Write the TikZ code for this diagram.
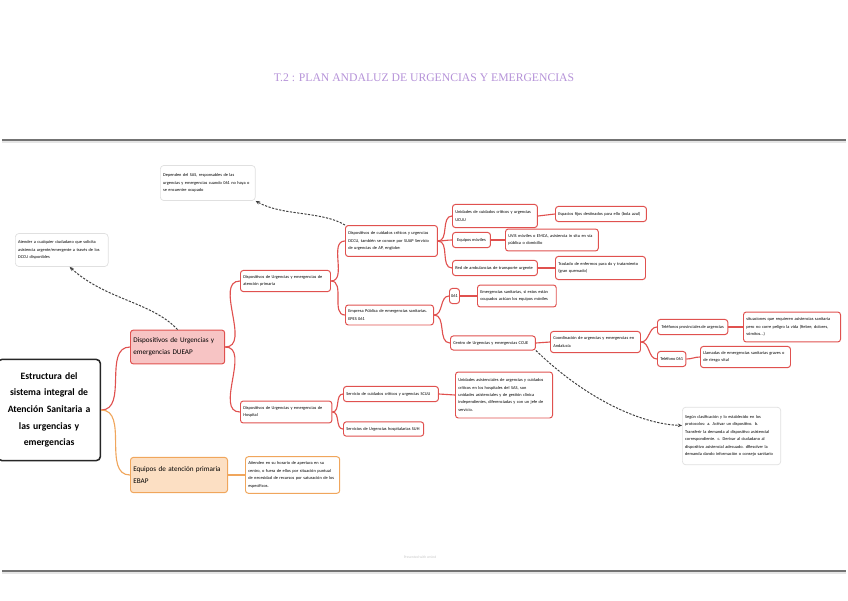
\documentclass[tikz,border=0pt]{standalone}
\usepackage{fontspec}
\setmainfont{Carlito}
\newfontfamily\titlefont{Liberation Serif}
\usetikzlibrary{arrows.meta}
\definecolor{mapred}{HTML}{E0514F}
\definecolor{mappink}{HTML}{F7C4C4}
\definecolor{maporange}{HTML}{F0A65C}
\definecolor{mappeach}{HTML}{FCDFC3}
\definecolor{maplilac}{HTML}{B592D8}

\begin{document}
\begin{tikzpicture}[x=0.025cm, y=-0.025cm,
	topic/.style={ draw=mapred, line width=0.7pt, fill=white, rounded corners=2pt, anchor=west, align=left, inner xsep=2pt, inner ysep=1pt, font=\fontsize{3.1}{5.3}\selectfont },
	topico/.style={ topic, draw=maporange },
	maintopic/.style={ topic, fill=mappink, font=\fontsize{5.1}{8.4}\selectfont },
	maintopico/.style={ maintopic, draw=maporange, fill=mappeach },
	rootbox/.style={ draw=black!85, line width=1.1pt, fill=white, rounded corners=3pt, anchor=west, align=center, inner xsep=1pt, font=\fontsize{6.9}{11.8}\selectfont\bfseries },
	notebox/.style={ topic, draw=black!12, line width=0.5pt, rounded corners=2.5pt },
	redline/.style={ draw=mapred, line width=0.8pt },
	orangeline/.style={ draw=maporange, line width=0.8pt },
	link/.style={ draw=black!75, line width=0.7pt, dash pattern=on 1.6pt off 1pt, -{Stealth[length=3pt,width=2.6pt]} }
]
\useasboundingbox (0,0) rectangle (848,600);

% header and footer
\node at (424,78) (title) [text=maplilac, font=\fontsize{8.3}{9}\titlefont] {T.2 : PLAN ANDALUZ DE URGENCIAS Y EMERGENCIAS};
\draw[black!10, line width=1.2pt] (2,142) -- (846,142);
\draw[black!55, line width=0.8pt] (2,140) -- (846,140);
\draw[black!10, line width=1.2pt] (2,573) -- (846,573);
\draw[black!55, line width=0.8pt] (2,571) -- (846,571);
\node at (420,557) (footer) [text=black!22, font=\fontsize{2.6}{3}\selectfont] {Presented with xmind};

% root
\node at (-3,410) (root) [rootbox, text width=71pt, minimum height=72pt] {Estructura del\\ sistema integral de\\ Atención Sanitaria a\\ las urgencias y\\ emergencias};

\node at (130,347) (dueap) [maintopic, text width=63pt, minimum height=24pt] {Dispositivos de Urgencias y\\ emergencias DUEAP};
\draw[redline] (root.east) to[out=0,in=180] (dueap.west);

\node at (130,475) (ebap) [maintopico, text width=65pt, minimum height=25pt] {Equipos de atención primaria\\ EBAP};
\draw[orangeline] (root.east) to[out=0,in=180] (ebap.west);

\node at (245,475) (ebapnote) [topico, text width=63pt, minimum height=26pt] {Atienden en su horario de apertura en su\\ centro, o fuera de ellos por situación puntual\\ de necesidad de recursos por saturación de los\\ específicos.};
\draw[orangeline] (ebap.east) to (ebapnote.west);

% notes
\node at (15,250) (note1) [notebox, text width=62pt, minimum height=23.5pt] {Atender a cualquier ciudadano que solicita\\ asistencia urgente/emergente a través de los\\ DCCU disponibles};
\draw[link] (dueap.north) .. controls (152,302) and (106,300) .. (note1.-65);

\node at (160,183) (note2) [notebox, text width=63.5pt, minimum height=25pt] {Dependen del SAS, responsables de las\\ urgencias y emergencias cuando 061 no haya o\\ se encuentre ocupado};

% atencion primaria
\node at (240,281) (ap) [topic, text width=60pt, minimum height=15pt] {Dispositivos de Urgencias y emergencias de\\ atención primaria};
\draw[redline] (dueap.east) to[out=0,in=180] (ap.west);

\node at (240,412) (hosp) [topic, text width=61pt, minimum height=15.6pt] {Dispositivos de Urgencias y emergencias de\\ Hospital};
\draw[redline] (dueap.east) to[out=0,in=180] (hosp.west);

\node at (345,241) (dccu) [topic, text width=61.4pt, minimum height=22pt] {Dispositivos de cuidados críticos y urgencias\\ DCCU, también se conoce por SUAP Servicio\\ de urgencias de AP, englobe:};
\draw[redline] (ap.east) to[out=0,in=180] (dccu.west);
\draw[link] (dccu.north west) .. controls (322,211) and (282,216) .. (note2.south east);

\node at (345,315) (epes) [topic, text width=58.6pt, minimum height=14.2pt] {Empresa Pública de emergencias sanitarias.\\ EPES 061};
\draw[redline] (ap.east) to[out=0,in=180] (epes.west);

\node at (452,216) (ucuu) [topic, text width=56.4pt, minimum height=16.4pt] {Unidades de cuidados críticos y urgencias\\ UCUU};
\node at (452,240) (moviles) [topic, minimum width=27pt, minimum height=10.7pt] {Equipos móviles};
\node at (452,268) (red) [topic, text width=56.4pt, minimum height=10.7pt] {Red de ambulancias de transporte urgente};
\foreach \p in {ucuu,moviles,red} \draw[redline] (dccu.east) to[out=0,in=180] (\p.west);

\node at (555,214) (fijos) [topic, text width=60.7pt, minimum height=10.7pt] {Espacios fijos destinados para ello (bola azul)};
\draw[redline] (ucuu.east) to (fijos.west);

\node at (505,240) (uvis) [topic, text width=62pt, minimum height=15.6pt] {UVIS móviles o EMCA, asistencia in situ en vía\\ pública o domicilio};
\draw[redline] (moviles.east) to (uvis.west);

\node at (555,268) (traslado) [topic, text width=60pt, minimum height=16.4pt] {Traslado de enfermos para dx y tratamiento\\ (gran quemado)};
\draw[redline] (red.east) to (traslado.west);

% 061
\node at (449,296) (n061) [topic, align=center, inner xsep=1.2pt, minimum height=10.7pt] {061};
\draw[redline] (epes.east) to[out=0,in=180] (n061.west);

\node at (477,296) (emerg) [topic, text width=52pt, minimum height=15.6pt] {Emergencias sanitarias, si estos están\\ ocupados actúan los equipos móviles};
\draw[redline] (n061.east) to (emerg.west);

% CCUE
\node at (450,343) (ccue) [topic, text width=56.4pt, minimum height=10pt] {Centro de Urgencias y emergencias CCUE};
\draw[redline] (epes.east) to[out=0,in=180] (ccue.west);

\node at (550,342) (coord) [topic, text width=60pt, minimum height=15pt] {Coordinación de urgencias y emergencias en\\ Andalucía};
\draw[redline] (ccue.east) to (coord.west);

\node at (657,327) (telprov) [topic, minimum width=50pt, minimum height=10.7pt] {Teléfonos provinciales de urgencias};
\node at (657,359) (tel061) [topic, minimum height=10.7pt] {Teléfono 061};
\foreach \p in {telprov,tel061} \draw[redline] (coord.east) to[out=0,in=180] (\p.west);

\node at (743,327) (situaciones) [topic, text width=65pt, minimum height=21.3pt] {situaciones que requieren asistencias sanitaria\\ pero no corre peligro la vida (fiebre, dolores,\\ vómitos...)};
\draw[redline] (telprov.east) to (situaciones.west);

\node at (700,357) (llamadas) [topic, text width=60pt, minimum height=15pt] {Llamadas de emergencias sanitarias graves o\\ de riesgo vital};
\draw[redline] (tel061.east) to[out=0,in=180] (llamadas.west);

\node at (682,436) (note3) [notebox, text width=66pt, minimum height=41pt] {Según clasificación y lo establecido en los\\ protocolos: a. Activar un dispositivo. b.\\ Transferir la demanda al dispositivo asistencial\\ correspondiente. c. Derivar al ciudadano al\\ dispositivo asistencial adecuado. dResolver la\\ demanda dando información o consejo sanitario};
\draw[link] (ccue.south east) .. controls (585,398) and (640,424) .. (note3.168);

% hospital
\node at (343,394) (scuu) [topic, text width=63.5pt, minimum height=10.7pt] {Servicio de cuidados críticos y urgencias SCUU};
\node at (343,429) (suh) [topic, text width=53pt, minimum height=10.2pt] {Servicios de Urgencias hospitalarias SUH};
\foreach \p in {scuu,suh} \draw[redline] (hosp.east) to[out=0,in=180] (\p.west);

\node at (455,395) (unidades) [topic, text width=65pt, minimum height=32.7pt] {Unidades asistenciales de urgencias y cuidados\\ críticos en los hospitales del SAS, son\\ unidades asistenciales y de gestión clínica\\ independientes, diferenciadas y con un jefe de\\ servicio.};
\draw[redline] (scuu.east) to (unidades.west);

\end{tikzpicture}
\end{document}
